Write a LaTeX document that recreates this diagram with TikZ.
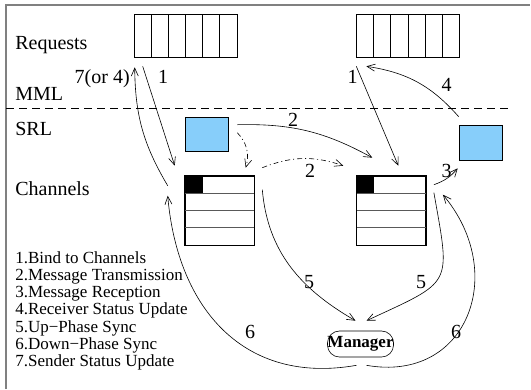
\documentclass[tikz,border=0pt]{standalone}
\usepackage{fontspec}
\setmainfont{Liberation Serif}
\usetikzlibrary{arrows.meta,positioning}

\definecolor{srlblue}{RGB}{135,206,250}

\tikzset{
	queue/.style={draw, minimum width=103pt, minimum height=43pt, inner sep=0pt},
	srlbox/.style={draw, fill=srlblue, minimum width=43pt, minimum height=34pt, inner sep=0pt},
	chan/.style={draw, minimum width=69pt, minimum height=69pt, inner sep=0pt},
	lbl/.style={font=\fontsize{20}{24}\selectfont, inner sep=0pt},
	legend/.style={font=\fontsize{17}{17}\selectfont, inner sep=0pt, anchor=base west},
	dashdot/.style={dash pattern=on 5pt off 3pt on 1pt off 3pt},
}

\begin{document}
\begin{tikzpicture}[x=1pt, y=-1pt, line width=0.6pt, >={Straight Barb[length=8pt,width=7pt]}]
	\useasboundingbox (0,0) rectangle (531,389);
	\draw[gray, line width=1.4pt] (6,389) -- (6,5) -- (530,5);

	% layer names
	\node[lbl, anchor=base west] (requests) at (15,49) {Requests};
	\node[lbl, anchor=base west] (mml) at (15,100) {MML};
	\node[lbl, anchor=base west] (srl) at (15,135) {SRL};
	\node[lbl, anchor=base west] (channels) at (15,195) {Channels};
	\draw[dashed, dash pattern=on 8pt off 5pt] (6,108) -- (510,108);

	% queues, boxes, channels
	\node[queue] (reqL) at (185.5,35.5) {};
	\node[queue] (reqR)[right=119pt of reqL] {};
	\foreach \q in {reqL,reqR}
		\foreach \i in {1,...,5}
			\draw ([xshift=\i*17.17pt]\q.south west) -- ([xshift=\i*17.17pt]\q.north west);

	\node[srlbox] (srlL) at (206.5,134) {};
	\node[srlbox, minimum height=35pt] (srlR) at (480.5,142.5) {};

	\node[chan] (chL) at (219.5,210.5) {};
	\node[chan] (chR)[right=102pt of chL] {};
	\foreach \c in {chL,chR} {
		\fill ([yshift=-0.3pt]\c.north west) rectangle ([xshift=18pt,yshift=-17.25pt]\c.north west);
		\foreach \k in {1,2,3}
			\draw[gray!70!black] ([yshift=-\k*17.25pt]\c.north west) -- ([yshift=-\k*17.25pt]\c.north east);
		\draw (\c.north west) rectangle (\c.south east);
	}

	\node[draw, rounded corners=12pt, minimum width=59pt, minimum height=26pt, inner sep=0pt,
		font=\fontsize{17}{17}\selectfont\bfseries] (mgr) at (360.5,344) {Manager};

	% connectors
	\path[->]
	([shift={(9,9)}]reqL.south west) edge ([shift={(-10,-10)}]chL.north west)
	([shift={(-17,10)}]chL.north west) edge[bend left=15] ([shift={(1,10)}]reqL.south west)
	([shift={(0,9)}]reqR.south west) edge ([shift={(42,-10)}]chR.north west)
	([shift={(0,-8)}]srlR.north west) edge[bend right=20] ([shift={(10,9)}]reqR.south west)
	([shift={(9,8)}]srlL.north east) edge[bend left=15] ([shift={(16,-18)}]chR.north west)
	([shift={(9,16)}]srlL.north east) edge[dashdot, bend left=30] ([shift={(61,-8)}]chL.north west)
	([shift={(8,-8)}]chL.north east) edge[dashdot, bend left=20] ([shift={(-13,-10)}]chR.north west)
	([shift={(8,9)}]chR.north east) edge[bend right=15] ([shift={(-1,8)}]srlR.south west)
	([shift={(8,14)}]chL.north east) edge[out=-85, in=150] ([shift={(-5,-10)}]mgr.north)
	([shift={(8,17)}]chR.north east) edge[out=-80, in=25, looseness=1.7] ([shift={(6,-10)}]mgr.north)
	([shift={(-4,8)}]mgr.south) edge[out=190, in=-85, looseness=1.15] ([shift={(-17,20)}]chL.north west)
	([shift={(6,8)}]mgr.south) edge[out=-10, in=-50, looseness=1.4] ([shift={(17,19)}]chR.north east)
	;

	% step numbers
	\node[lbl, anchor=base] (n1L) at (163,83) {1};
	\node[lbl, anchor=base east] (n7) at (130,83) {7(or 4)};
	\node[lbl, anchor=base] (n1R) at (352.7,83) {1};
	\node[lbl, anchor=base] (n4) at (446.7,91) {4};
	\node[lbl, anchor=base] (n2a) at (293,126) {2};
	\node[lbl, anchor=base] (n2b) at (310,177) {2};
	\node[lbl, anchor=base] (n3) at (446.7,177) {3};
	\node[lbl, anchor=base] (n5L) at (309,288) {5};
	\node[lbl, anchor=base] (n5R) at (421,288) {5};
	\node[lbl, anchor=base] (n6L) at (250,338) {6};
	\node[lbl, anchor=base] (n6R) at (456,338) {6};

	% legend
	\foreach \t [count=\i] in {1.Bind to Channels, 2.Message Transmission, 3.Message Reception,
		4.Receiver Status Update, 5.Up−Phase Sync, 6.Down−Phase Sync, 7.Sender Status Update}
		\node[legend] (leg\i) at (15,246+\i*17.2) {\t};
\end{tikzpicture}
\end{document}
